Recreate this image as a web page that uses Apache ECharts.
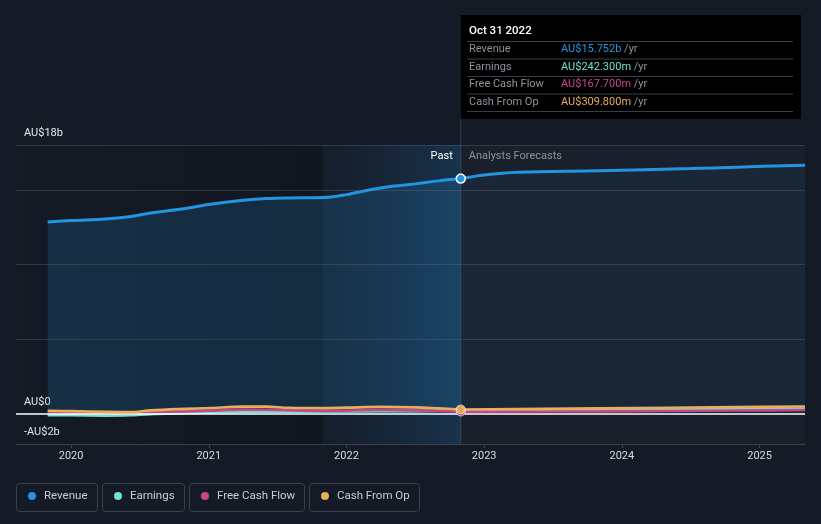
<!DOCTYPE html>
<html><head><meta charset="utf-8">
<script src="https://cdn.jsdelivr.net/npm/echarts@6.0.0/dist/echarts.min.js"></script>
<style>html,body{margin:0;padding:0;background:#151b26;}#c{width:821px;height:524px;}</style>
</head><body><div id="c"></div>
<script>
// ---- data ----
const yearTicks = [2020, 2021, 2022, 2023, 2024, 2025];
const xMin = 2019.6, xMax = 2025.33;
const splitYear = 2022.83;          // Oct 31 2022
const highlightStart = 2021.83;
const yMin = -2, yMax = 18;
const gridValues = [5, 10, 15, 18];
const yLabelValues = [18, 0, -2];
const yLabelText = {18: 'AU$18b', 0: 'AU$0', '-2': '-AU$2b'};

const seriesNames = ['Revenue', 'Earnings', 'Free Cash Flow', 'Cash From Op'];
const seriesColors = ['#2394df', '#6fe3d3', '#c8478b', '#e8ae5c'];

const revenuePast = [[2019.83,12.85],[2020.0,12.95],[2020.25,13.05],[2020.42,13.2],[2020.58,13.45],[2020.83,13.75],[2021.0,14.02],[2021.25,14.3],[2021.42,14.42],[2021.58,14.46],[2021.83,14.48],[2022.0,14.68],[2022.17,15.0],[2022.33,15.24],[2022.5,15.4],[2022.67,15.6],[2022.83,15.752]];
const revenueForecast = [[2022.83,15.752],[2023.0,16.0],[2023.25,16.18],[2023.83,16.28],[2024.5,16.42],[2024.83,16.52],[2025.33,16.65]];

const earningsPast = [[2019.83,-0.07],[2020.0,-0.08],[2020.25,-0.1],[2020.42,-0.08],[2020.58,0.0],[2020.83,0.06],[2021.0,0.1],[2021.25,0.14],[2021.5,0.16],[2021.83,0.17],[2022.25,0.19],[2022.5,0.2],[2022.83,0.2423]];
const earningsForecast = [[2022.83,0.2423],[2023.83,0.28],[2024.83,0.33],[2025.33,0.36]];

const fcfPast = [[2019.83,0.12],[2020.0,0.1],[2020.25,0.06],[2020.42,0.05],[2020.58,0.12],[2020.83,0.18],[2021.0,0.22],[2021.25,0.3],[2021.5,0.28],[2021.83,0.22],[2022.25,0.27],[2022.5,0.25],[2022.83,0.1677]];
const fcfForecast = [[2022.83,0.1677],[2023.83,0.18],[2024.83,0.24],[2025.33,0.27]];

const cfoPast = [[2019.83,0.22],[2020.0,0.2],[2020.25,0.15],[2020.42,0.13],[2020.58,0.25],[2020.83,0.35],[2021.0,0.4],[2021.25,0.5],[2021.42,0.5],[2021.58,0.42],[2021.83,0.4],[2022.0,0.43],[2022.25,0.48],[2022.5,0.45],[2022.67,0.38],[2022.83,0.3098]];
const cfoForecast = [[2022.83,0.3098],[2023.83,0.38],[2024.83,0.47],[2025.33,0.51]];

const tipDate = 'Oct 31 2022';
const tipValues = ['AU$15.752b', 'AU$242.300m', 'AU$167.700m', 'AU$309.800m'];
const pastLabel = 'Past';
const forecastLabel = 'Analysts Forecasts';

// ---- chart ----
const FONT = 'Roboto, sans-serif';
const chart = echarts.init(document.getElementById('c'), null, {renderer: 'canvas'});
const pastData = [revenuePast, earningsPast, fcfPast, cfoPast];
const foreData = [revenueForecast, earningsForecast, fcfForecast, cfoForecast];

function hexA(hex, a) {
  const n = parseInt(hex.slice(1), 16);
  return `rgba(${(n>>16)&255},${(n>>8)&255},${n&255},${a})`;
}

const series = [];
// background regions
series.push({
  type: 'line', name: 'bg', data: [], z: 0, silent: true,
  markArea: {
    silent: true,
    data: [
      [{xAxis: xMin, itemStyle: {color: new echarts.graphic.LinearGradient(0,0,1,0,[{offset:0,color:'rgba(0,0,0,0.02)'},{offset:1,color:'rgba(0,0,0,0.2)'}])}}, {xAxis: highlightStart}],
      [{xAxis: highlightStart, itemStyle: {color: new echarts.graphic.LinearGradient(0,0,1,0,[{offset:0,color:'rgba(25,70,110,0.08)'},{offset:1,color:'rgba(35,120,185,0.26)'}])}}, {xAxis: splitYear}],
      [{xAxis: splitYear, itemStyle: {color: 'rgba(255,255,255,0.022)'}}, {xAxis: xMax}]
    ]
  }
});

for (let i = 0; i < 4; i++) {
  const isRev = i === 0;
  const w = isRev ? 3 : 2.6;
  series.push({
    type: 'line', name: seriesNames[i], data: pastData[i], smooth: 0.35, symbol: 'none',
    z: 2 + i, silent: true,
    lineStyle: {color: seriesColors[i], width: w},
    areaStyle: isRev ? {color: hexA(seriesColors[i], 0.25)} : undefined
  });
  series.push({
    type: 'line', name: seriesNames[i], data: foreData[i], smooth: 0.35, symbol: 'none',
    z: 2 + i, silent: true,
    lineStyle: {color: seriesColors[i], width: w},
    areaStyle: isRev ? {color: hexA(seriesColors[i], 0.1)} : undefined
  });
}

// gridlines and zero line on top of area fills
series.push({
  type: 'line', name: 'grid', data: [], z: 6, silent: true,
  markLine: {
    silent: true, symbol: 'none', label: {show: false},
    data: gridValues.map(v => ({yAxis: v, lineStyle: {color: 'rgba(120,130,145,0.28)', type: 'solid', width: 1}}))
  }
});
series.push({
  type: 'line', name: 'zero', data: [], z: 7, silent: true,
  markLine: {
    silent: true, symbol: 'none', label: {show: false},
    data: [{yAxis: 0, lineStyle: {color: '#ffffff', type: 'solid', width: 1.6}}]
  }
});
// markers at the split date
const markerOrder = [1, 2, 0, 3];
markerOrder.forEach((i, k) => {
  const last = pastData[i][pastData[i].length - 1];
  series.push({
    type: 'scatter', name: seriesNames[i] + ' marker', z: 10 + k, silent: true,
    data: [last], symbol: 'circle', symbolSize: 9,
    itemStyle: {color: seriesColors[i], borderColor: i === 0 ? '#ffffff' : 'rgba(255,255,255,0.6)', borderWidth: i === 0 ? 1.5 : 1, opacity: 1}
  });
});

chart.setOption({
  backgroundColor: '#151b26',
  animation: false,
  textStyle: {fontFamily: FONT},
  grid: {left: 16, right: 16, top: 145, bottom: 80, containLabel: false},
  xAxis: {
    type: 'value', min: xMin, max: xMax,
    axisLine: {show: true, onZero: false, lineStyle: {color: '#3a414b', width: 1}},
    axisTick: {show: true, customValues: yearTicks, length: 4, lineStyle: {color: '#3a414b'}},
    axisLabel: {customValues: yearTicks, color: '#d8dbe0', fontSize: 11, margin: 7, fontFamily: FONT, formatter: v => String(Math.round(v))},
    splitLine: {show: false}
  },
  yAxis: {
    type: 'value', min: yMin, max: yMax,
    axisLine: {show: false}, axisTick: {show: false}, splitLine: {show: false},
    axisLabel: {
      inside: true, customValues: yLabelValues, margin: 8, color: '#e8eaed', fontSize: 11, fontFamily: FONT,
      verticalAlign: 'bottom', padding: [0, 0, 6, 0],
      formatter: v => yLabelText[String(Math.round(v))]
    }
  },
  series: series
});

// ---- overlay: tooltip box, past/forecast labels, legend ----
const sx = chart.convertToPixel({xAxisIndex: 0}, splitYear);
const gBot = chart.convertToPixel({yAxisIndex: 0}, yMin);
const graphics = [];
const boxX = 461, boxY = 15, boxW = 340, boxH = 104;
graphics.push({type: 'line', z: 50, silent: true, shape: {x1: sx, y1: boxY + boxH, x2: sx, y2: gBot}, style: {stroke: 'rgba(90,130,165,0.35)', lineWidth: 1}});
graphics.push({type: 'rect', z: 60, silent: true, shape: {x: boxX, y: boxY, width: boxW, height: boxH}, style: {fill: '#000000'}});
graphics.push({type: 'text', z: 61, silent: true, x: 469, y: 31, style: {text: tipDate, fill: '#ffffff', font: '500 11.5px ' + FONT, verticalAlign: 'middle'}});
const sepY = [41.5, 59, 76.5, 94, 111.5];
sepY.forEach(y => graphics.push({type: 'line', z: 61, silent: true, shape: {x1: 467, y1: y, x2: 793, y2: y}, style: {stroke: '#3a3f47', lineWidth: 1}}));
const rowY = [49.5, 67, 84.5, 102];
for (let i = 0; i < 4; i++) {
  graphics.push({type: 'text', z: 61, silent: true, x: 469, y: rowY[i], style: {text: seriesNames[i], fill: '#8e939b', font: '11px ' + FONT, verticalAlign: 'middle'}});
  graphics.push({type: 'text', z: 61, silent: true, x: 561, y: rowY[i], style: {
    text: '{v|' + tipValues[i] + '} {u|/yr}', verticalAlign: 'middle', font: '11px ' + FONT,
    rich: {v: {fill: seriesColors[i], font: '11px ' + FONT}, u: {fill: '#8e939b', font: '11px ' + FONT}}
  }});
}
graphics.push({type: 'text', z: 55, silent: true, x: sx - 8, y: 156, style: {text: pastLabel, fill: '#ffffff', font: '11px ' + FONT, align: 'right', verticalAlign: 'middle'}});
graphics.push({type: 'text', z: 55, silent: true, x: sx + 8, y: 156, style: {text: forecastLabel, fill: '#8e939b', font: '11px ' + FONT, align: 'left', verticalAlign: 'middle'}});

const legendBoxes = [[16, 97], [102, 184], [189, 304], [309, 419]];
legendBoxes.forEach((b, i) => {
  graphics.push({type: 'rect', z: 55, silent: true, shape: {x: b[0] + 0.5, y: 483.5, width: b[1] - b[0], height: 28, r: 3}, style: {fill: 'none', stroke: '#3b414b', lineWidth: 1}});
  graphics.push({type: 'circle', z: 56, silent: true, shape: {cx: b[0] + 16, cy: 496, r: 4}, style: {fill: seriesColors[i]}});
  graphics.push({type: 'text', z: 56, silent: true, x: b[0] + 28, y: 496.5, style: {text: seriesNames[i], fill: '#c9cdd3', font: '11.5px ' + FONT, verticalAlign: 'middle'}});
});
chart.setOption({graphic: graphics});
</script>
</body></html>
